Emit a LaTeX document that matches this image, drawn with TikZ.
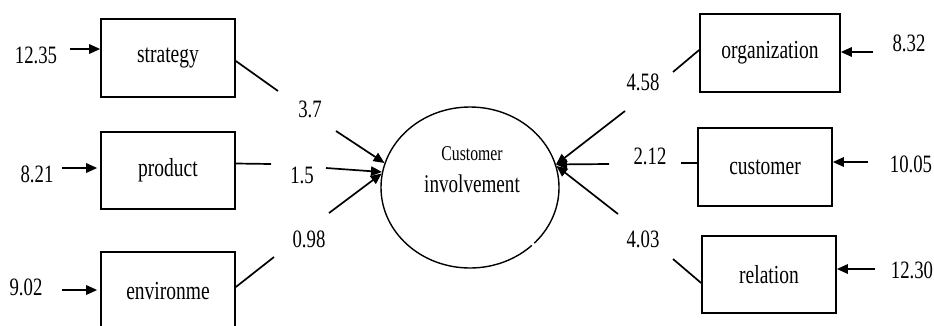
\documentclass[tikz,border=0pt]{standalone}
\usepackage{fontspec}
\setmainfont{Liberation Serif}[FakeStretch=0.75]
\usetikzlibrary{shapes.geometric,arrows.meta}

\begin{document}
\begin{tikzpicture}[x=1pt,y=-1pt,
  varbox/.style={draw, line width=1.7pt, inner sep=0pt, font=\fontsize{26}{30}\selectfont},
  num/.style={inner sep=0pt, font=\fontsize{25}{30}\selectfont},
  link/.style={line width=1.7pt},
  arr/.style={line width=1.7pt, -{Triangle[length=11pt,width=9.5pt]}},
]
\useasboundingbox (0,0) rectangle (934,325);
\clip (0,0) rectangle (934,325);

% latent variable
\node[ellipse, draw, line width=1.4pt, minimum width=178pt, minimum height=161pt, inner sep=0pt] (ce) at (470,187.5) {};
% small break in the outline, lower right
\draw[white, line width=3pt] (531.8,245.2) -- (534.2,243.2);
\node[inner sep=0pt, anchor=base, font=\fontsize{21}{24}\selectfont] (cet1) at (472,160) {Customer};
\node[inner sep=0pt, anchor=base, font=\fontsize{25.5}{30}\selectfont] (cet2) at (472,192) {involvement};

% observed variables, left
\node[varbox, minimum width=134pt, minimum height=78pt] (strategy) at (168,58) {strategy};
\node[varbox, minimum width=134pt, minimum height=77pt] (product) at (168,170.5) {product};
\node[varbox, minimum width=134pt, minimum height=78pt] (environ) at (168,291) {environme};

% observed variables, right
\node[varbox, minimum width=140pt, minimum height=78pt] (organization) at (770,53) {organization};
\node[varbox, minimum width=134pt, minimum height=78pt] (customer) at (765,167) {customer};
\node[varbox, minimum width=134pt, minimum height=77pt] (relation) at (769,274.5) {relation};

% error terms
\node[num] (e1) at (36,55) {12.35};
\node[num] (e2) at (37,174) {8.21};
\node[num] (e3) at (26,287) {9.02};
\node[num] (e4) at (909,43) {8.32};
\node[num] (e5) at (911,164) {10.05};
\node[num] (e6) at (912,270) {12.30};

% loadings
\node[num] (w1) at (310,109) {3.7};
\node[num] (w2) at (302,175) {1.5};
\node[num] (w3) at (309,239) {0.98};
\node[num] (w4) at (643,82) {4.58};
\node[num] (w5) at (650,156) {2.12};
\node[num] (w6) at (643,239) {4.03};

% error arrows
\coordinate (i1) at (70,49);
\coordinate (i2) at (62,168);
\coordinate (i3) at (62,290);
\coordinate (i4) at (873,52);
\coordinate (i5) at (868,162);
\coordinate (i6) at (875,269);
\draw[arr] (i1) -- (i1 -| strategy.west);
\draw[arr, shorten >=3pt] (i2) -- (i2 -| product.west);
\draw[arr, shorten >=3pt] (i3) -- (i3 -| environ.west);
\draw[arr] (i4) -- (i4 -| organization.east);
\draw[arr] (i5) -- (i5 -| customer.east);
\draw[arr] (i6) -- (i6 -| relation.east);

% paths into the latent variable, broken around the loadings
\coordinate (s1) at (278,91);  \coordinate (s2) at (336,131);
\coordinate (p1) at (271,164); \coordinate (p2) at (326,168);
\coordinate (n1) at (274,257); \coordinate (n2) at (329,213);
\coordinate (o1) at (673,72);  \coordinate (o2) at (625,111);
\coordinate (c1) at (681,163); \coordinate (c2) at (609,164);
\coordinate (r1) at (673,259); \coordinate (r2) at (618,214);

\draw[link] ([yshift=-3pt]strategy.east) -- (s1);
\draw[arr] (s2) -- (ce.164);
\draw[link] ([yshift=7pt]product.east) -- (p1);
\draw[arr] (p2) -- (ce.170);
\draw[link] ([yshift=4pt]environ.east) -- (n1);
\draw[arr] (n2) -- (ce.171);

\draw[link] ([yshift=3pt]organization.west) -- (o1);
\draw[arr] (o2) -- (ce.15);
\draw[link] ([yshift=4pt]customer.west) -- (c1);
\draw[arr] (c2) -- (ce.15);
\draw[link] ([yshift=-8.5pt]relation.west) -- (r1);
\draw[arr] (r2) -- (ce.14);
\end{tikzpicture}
\end{document}
